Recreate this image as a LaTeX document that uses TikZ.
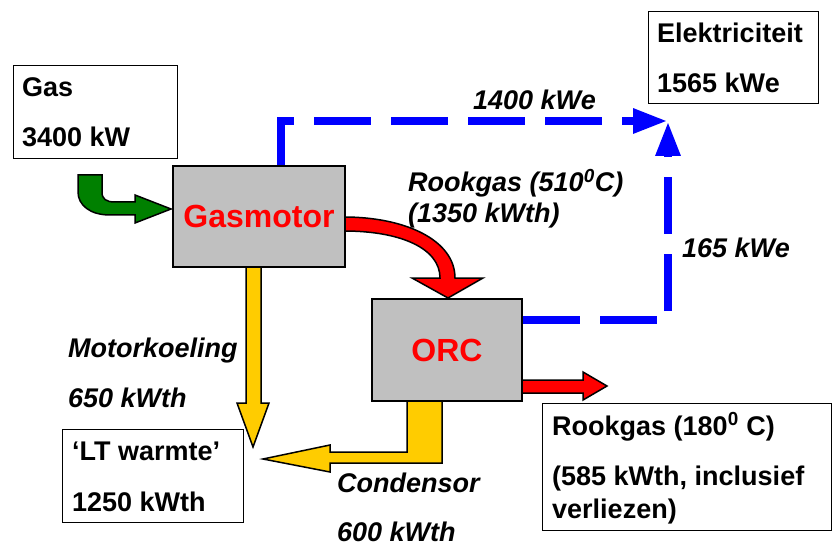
\documentclass[tikz,border=0pt]{standalone}
\usepackage{fontspec}
\setmainfont{Liberation Sans}
\usetikzlibrary{arrows.meta}
\definecolor{boxgray}{RGB}{192,192,192}
\definecolor{flowyellow}{RGB}{255,204,0}
\definecolor{flowgreen}{RGB}{0,128,0}
\definecolor{flowred}{RGB}{255,0,0}
\definecolor{elecblue}{RGB}{0,0,255}
\tikzset{
  infobox/.style={draw=black, line width=1.3pt, fill=white, inner sep=0pt, anchor=north west},
  procbox/.style={draw=black, line width=2pt, fill=boxgray, inner sep=0pt, text=flowred,
    font=\fontsize{32}{36}\selectfont\bfseries},
  boxtxt/.style={anchor=base west, inner sep=0pt, font=\fontsize{27}{32}\selectfont\bfseries},
  flowtxt/.style={anchor=base west, inner sep=0pt, font=\fontsize{27}{32}\selectfont\bfseries\itshape},
  blockarrow/.style={draw=black, line width=1.5pt, line join=miter},
  elecline/.style={draw=elecblue, line width=8.5pt, dash pattern=on 57pt off 20pt,
    -{Triangle[length=35pt,width=23pt]}},
}
\begin{document}
\begin{tikzpicture}[x=1pt,y=-1pt]
\useasboundingbox (0,0) rectangle (832,545);

% block arrows (drawn first, boxes on top)
\filldraw[blockarrow, fill=flowgreen] (78,175) -- (102,175) -- (102,192)
  .. controls (102,199) and (106,202) .. (115,202) -- (135,202) -- (135,195)
  -- (171,209) -- (135,223) -- (135,215) -- (110,215)
  .. controls (90,215) and (78,205) .. (78,192) -- cycle;
\filldraw[blockarrow, fill=flowred] (344,217) .. controls (405,217) and (455,240) .. (455,278)
  -- (483,278) -- (448,298) -- (412,278) -- (440,278)
  .. controls (440,248) and (400,231) .. (344,231) -- cycle;
\filldraw[blockarrow, fill=flowyellow] (246,266) -- (261,266) -- (261,403) -- (269,403)
  -- (253,447) -- (237,403) -- (246,403) -- cycle;
\filldraw[blockarrow, fill=flowyellow] (407,400) -- (442,400) -- (442,463) -- (330,463)
  -- (330,472) -- (263,459) -- (330,445) -- (330,452) -- (407,452) -- cycle;
\filldraw[blockarrow, fill=flowred] (521,380) -- (583,380) -- (583,372) -- (607,386)
  -- (583,400) -- (583,393) -- (521,393) -- cycle;

% boxes
\node[infobox, minimum width=164pt, minimum height=93pt] (gasbox) at (13,65) {};
\node[infobox, minimum width=170pt, minimum height=92pt] (elbox) at (648,11) {};
\node[infobox, minimum width=181pt, minimum height=93pt] (ltbox) at (62,429) {};
\node[infobox, minimum width=289pt, minimum height=127pt] (rgbox) at (542,403) {};
\node[procbox, minimum width=172pt, minimum height=101pt] (gm) at (259,216.5) {Gasmotor};
\node[procbox, minimum width=150pt, minimum height=102pt] (orc) at (447,350) {ORC};

% electricity lines
\coordinate (etip) at (668,121);
\draw[elecline] ([xshift=-65pt]gm.north east) |- (etip);
\draw[elecline] ([yshift=30pt]orc.east) -| (etip);

% box texts
\node[boxtxt] (t1) at (22,97) {Gas};
\node[boxtxt] (t2) at (22,147) {3400 kW};
\node[boxtxt] (t3) at (657,43) {Elektriciteit};
\node[boxtxt] (t4) at (657,93) {1565 kWe};
\node[boxtxt] (t5) at (72,460) {‘LT warmte’};
\node[boxtxt] (t6) at (72,511) {1250 kWth};
\node[boxtxt] (t7) at (552,435) {Rookgas (180\textsuperscript{0} C)};
\node[boxtxt] (t8) at (552,485) {(585 kWth, inclusief};
\node[boxtxt] (t9) at (552,518) {verliezen)};

% flow labels
\node[flowtxt] (f1) at (473,110) {1400 kWe};
\node[flowtxt] (f2) at (408,192) {Rookgas (510\textsuperscript{0}C)};
\node[flowtxt] (f3) at (408,223) {(1350 kWth)};
\node[flowtxt] (f4) at (682,258) {165 kWe};
\node[flowtxt] (f5) at (68,357) {Motorkoeling};
\node[flowtxt] (f6) at (68,407) {650 kWth};
\node[flowtxt] (f7) at (337,492) {Condensor};
\node[flowtxt] (f8) at (337,541) {600 kWth};
\end{tikzpicture}
\end{document}
